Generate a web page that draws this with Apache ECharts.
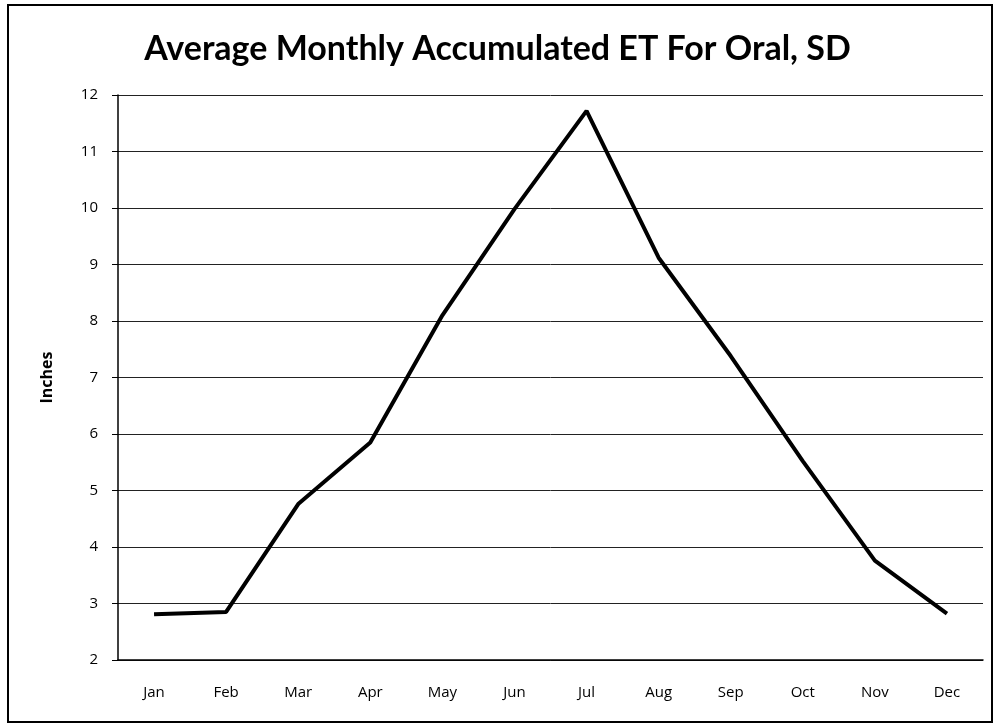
<!DOCTYPE html>
<html>
<head>
<meta charset="utf-8">
<script src="https://cdn.jsdelivr.net/npm/echarts@6/dist/echarts.min.js"></script>
<style>
html,body{margin:0;padding:0;background:#fff;}
#chart{width:995px;height:727px;}
</style>
</head>
<body>
<div id="chart"></div>
<script>
const months = ['Jan','Feb','Mar','Apr','May','Jun','Jul','Aug','Sep','Oct','Nov','Dec'];
const etInches = [2.81, 2.85, 4.76, 5.85, 8.1, 9.98, 11.72, 9.12, 7.38, 5.52, 3.76, 2.82];
const yMin = 2, yMax = 12, yStep = 1;

const chart = echarts.init(document.getElementById('chart'));
chart.setOption({
  backgroundColor: '#fff',
  animation: false,
  title: {
    text: 'Average Monthly Accumulated ET For Oral, SD',
    left: 'center',
    top: 27,
    textStyle: { fontFamily: 'Lato', fontWeight: 'bold', fontSize: 34, color: '#000' }
  },
  graphic: [{
    type: 'rect',
    shape: { x: 8, y: 5, width: 984, height: 717 },
    style: { fill: 'none', stroke: '#000', lineWidth: 2 },
    silent: true
  }],
  grid: { left: 118, right: 12, top: 95, bottom: 67 },
  xAxis: {
    type: 'category',
    data: months,
    boundaryGap: true,
    axisLine: { lineStyle: { color: '#000', width: 1.5 } },
    axisTick: { show: false },
    axisLabel: { color: '#000', fontFamily: 'Open Sans', fontSize: 15, margin: 25 }
  },
  yAxis: {
    type: 'value',
    min: yMin, max: yMax, interval: yStep,
    name: 'Inches',
    nameLocation: 'middle',
    nameGap: 63,
    nameTextStyle: { color: '#000', fontFamily: 'Open Sans', fontWeight: 'bold', fontSize: 16 },
    axisLine: { show: true, lineStyle: { color: '#000', width: 1.5 } },
    axisTick: { show: true, length: 6, lineStyle: { color: '#000' } },
    axisLabel: { color: '#000', fontFamily: 'Open Sans', fontSize: 15, margin: 20 },
    splitLine: { lineStyle: { color: '#222', width: 1 } }
  },
  series: [{
    type: 'line',
    data: etInches,
    symbol: 'none',
    lineStyle: { color: '#000', width: 4 }
  }]
});
</script>
</body>
</html>
